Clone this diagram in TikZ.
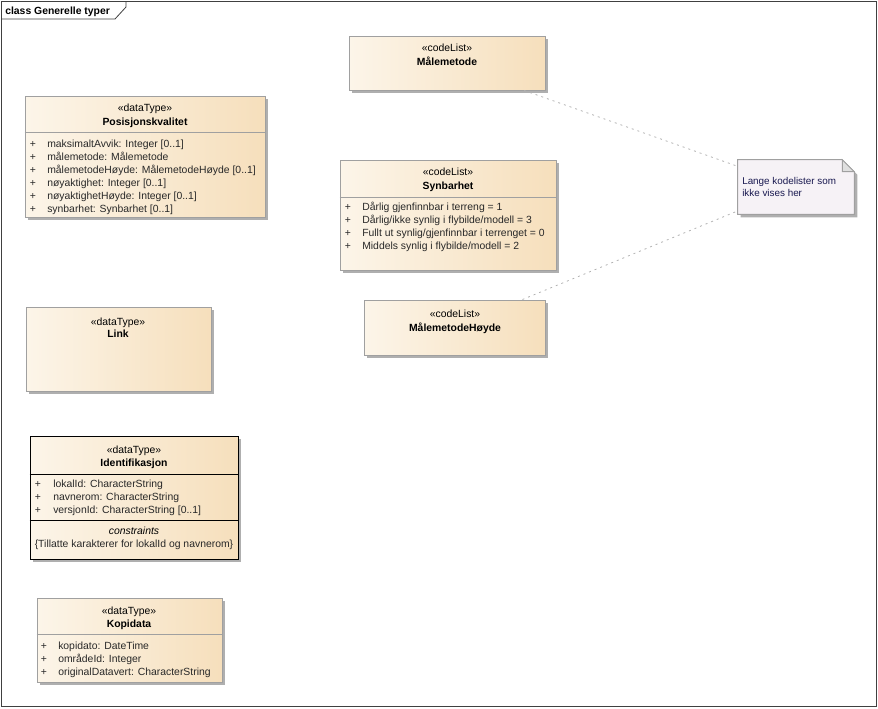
\documentclass[tikz,border=0pt]{standalone}
\usepackage{fontspec}
\setmainfont{Liberation Sans}
\usepackage{tikz}
\usetikzlibrary{fit,shadows}
\definecolor{clsL}{RGB}{252,245,233}
\definecolor{clsR}{RGB}{246,223,188}
\definecolor{clsline}{RGB}{160,160,160}
\definecolor{shd}{RGB}{175,175,175}
\definecolor{notefill}{RGB}{246,242,246}
\definecolor{notetext}{RGB}{25,25,80}
\definecolor{txt}{RGB}{40,40,40}

\begin{document}
\begin{tikzpicture}[x=.75pt,y=-.75pt,font=\fontsize{7.8}{9.75}\selectfont,
cls/.style={draw=clsline,line width=.75pt,left color=clsL,right color=clsR,inner sep=0pt,
 drop shadow={shadow xshift=2.25pt,shadow yshift=-2.25pt,fill=shd,opacity=1}},
idcls/.style={cls,draw=black,line width=.75pt},
sepl/.style={draw=clsline,line width=.75pt},
idsep/.style={draw=black,line width=.75pt},
ster/.style={inner sep=0pt,anchor=base,text=black},
nm/.style={ster,font=\fontsize{7.8}{9}\selectfont\bfseries},
attr/.style={inner sep=0pt,anchor=base west,text=txt},
plus/.style={inner sep=0pt,anchor=base,text=txt},
dsh/.style={draw=gray!60,line width=.6pt,dash pattern=on 1.5pt off 3pt},
frm/.style={draw=black!75,line width=.6pt}]

\useasboundingbox (0,0) rectangle (878,708);
\draw[frm](1,1)rectangle(876,706);
\draw[frm](1,19)--(115,19)--(126,7)--(126,1);
\node[nm,anchor=base west] (ttl) at (5,14.5) {class Generelle typer};

% kodelister
\node[cls,fit={(349,36)(545,90)}] (mal) {};
\node[ster] (mal-s) at (447,51) {«codeList»};
\node[nm] (mal-n) at (447,65) {Målemetode};

\node[cls,fit={(340,160)(556,270)}] (syn) {};
\draw[sepl](syn.west |- 0,197)--(syn.east |- 0,197);
\node[ster] (syn-s) at (448,175) {«codeList»};
\node[nm] (syn-n) at (448,189) {Synbarhet};
\foreach \a [count=\i] in {Dårlig gjenfinnbar i terreng = 1,Dårlig/ikke synlig i flybilde/modell = 3,Fullt ut synlig/gjenfinnbar i terrenget = 0,Middels synlig i flybilde/modell = 2}{
 \node[plus] (syn-p\i) at (348,197+13*\i) {+};
 \node[attr] (syn-a\i) at (362,197+13*\i) {\a};
}

\node[cls,fit={(364,300)(545,355)}] (mh) {};
\node[ster] (mh-s) at (455,317) {«codeList»};
\node[nm] (mh-n) at (455,331) {MålemetodeHøyde};

% merknad
\node[fit={(738,160)(854,214)},inner sep=0pt] (note) {};
\fill[shd]([shift={(3,3)}]note.north west)--([shift={(-9,3)}]note.north east)--([shift={(3,15)}]note.north east)--([shift={(3,3)}]note.south east)--([shift={(3,3)}]note.south west)--cycle;
\draw[draw=clsline,fill=notefill,line width=.75pt](note.north west)--([xshift=-9pt]note.north east)--([yshift=-9pt]note.north east)--(note.south east)--(note.south west)--cycle;
\draw[draw=clsline,fill=gray!25,line width=.75pt]([xshift=-9pt]note.north east)--([shift={(-9pt,-9pt)}]note.north east)--([yshift=-9pt]note.north east)--cycle;
\node[attr,anchor=west,text=notetext,align=left,font=\fontsize{7.4}{9}\selectfont] (note-t) at (742,187) {Lange kodelister som\\ikke vises her};
\draw[dsh](mal)--(note);
\draw[dsh](mh)--(note);

% datatyper
\node[cls,fit={(25,96)(265,217)}] (pos) {};
\draw[sepl](pos.west |- 0,132)--(pos.east |- 0,132);
\node[ster] (pos-s) at (145,111) {«dataType»};
\node[nm] (pos-n) at (145,125) {Posisjonskvalitet};
\foreach \a [count=\i] in {maksimaltAvvik: Integer [0..1],målemetode: Målemetode,målemetodeHøyde: MålemetodeHøyde [0..1],nøyaktighet: Integer [0..1],nøyaktighetHøyde: Integer [0..1],synbarhet: Synbarhet [0..1]}{
 \node[plus] (pos-p\i) at (33,134+13*\i) {+};
 \node[attr] (pos-a\i) at (47,134+13*\i) {\a};
}

\node[cls,fit={(26,307)(211,391)}] (lnk) {};
\node[ster] (lnk-s) at (118,325) {«dataType»};
\node[nm] (lnk-n) at (118,337) {Link};

\node[idcls,fit={(30,436)(238,559)}] (ident) {};
\draw[idsep](ident.west |- 0,474)--(ident.east |- 0,474);
\draw[idsep](ident.west |- 0,520)--(ident.east |- 0,520);
\node[ster] (ident-s) at (134,453) {«dataType»};
\node[nm] (ident-n) at (134,466) {Identifikasjon};
\foreach \a [count=\i] in {lokalId: CharacterString,navnerom: CharacterString,versjonId: CharacterString [0..1]}{
 \node[plus] (ident-p\i) at (38,474+13*\i) {+};
 \node[attr] (ident-a\i) at (53,474+13*\i) {\a};
}
\node[ster,font=\fontsize{7.8}{9}\selectfont\itshape] (ident-c) at (134,534) {constraints};
\node[ster,text=txt] (ident-k) at (134,547) {\{Tillatte karakterer for lokalId og navnerom\}};

\node[cls,fit={(37,598)(222,682)}] (kopi) {};
\draw[sepl](kopi.west |- 0,634)--(kopi.east |- 0,634);
\node[ster] (kopi-s) at (129,614) {«dataType»};
\node[nm] (kopi-n) at (129,627) {Kopidata};
\foreach \a [count=\i] in {kopidato: DateTime,områdeId: Integer,originalDatavert: CharacterString}{
 \node[plus] (kopi-p\i) at (44,636+13*\i) {+};
 \node[attr] (kopi-a\i) at (58,636+13*\i) {\a};
}
\end{tikzpicture}
\end{document}
